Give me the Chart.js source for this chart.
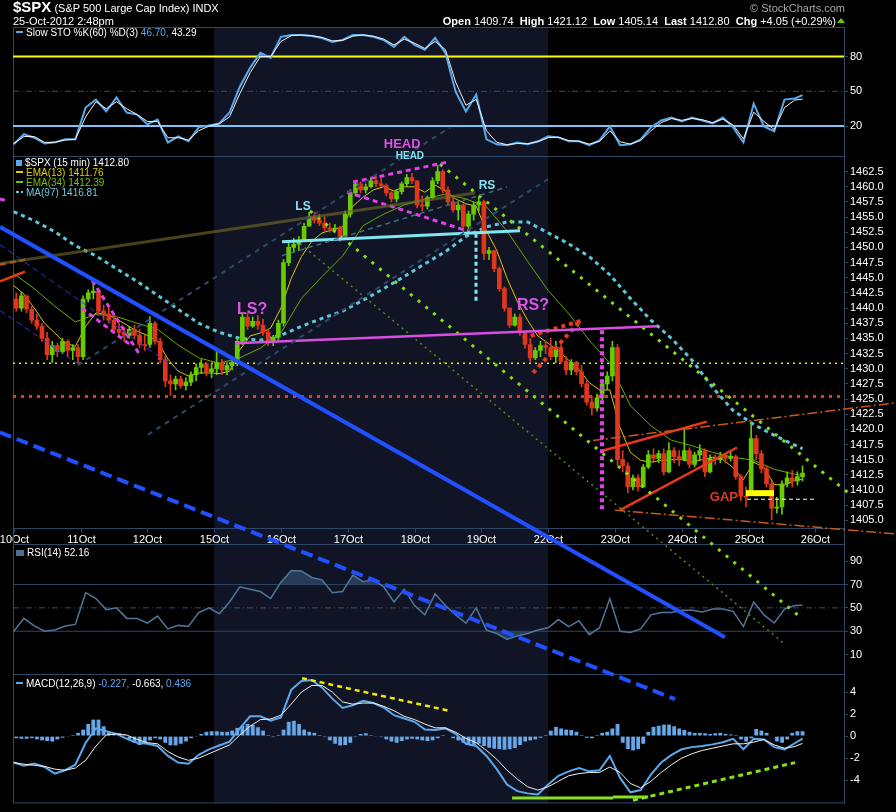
<!DOCTYPE html>
<html>
<head>
<meta charset="utf-8">
<title>$SPX 15 min</title>
<script src="https://cdn.jsdelivr.net/npm/chart.js@4.4.1/dist/chart.umd.min.js"></script>
<style>
  html, body { margin: 0; padding: 0; background: #000; }
  #wrap { position: relative; width: 896px; height: 812px; overflow: hidden; font-family: "Liberation Sans", Arial, sans-serif; color: #fff; }
  #chart { position: absolute; left: 0; top: 0; }
  .txt { position: absolute; white-space: nowrap; font-size: 10px; line-height: 10px; }
  .key { display: inline-block; width: 7px; height: 2px; vertical-align: middle; margin-right: 3px; position: relative; top: -1px; }
  .up { position: absolute; left: 837px; top: 18px; width: 0; height: 0; border-left: 4px solid transparent; border-right: 4px solid transparent; border-bottom: 5px solid #66cc00; }
</style>
</head>
<body>
<div id="wrap">
  <canvas id="chart" width="896" height="812"></canvas>
  <div class="txt" style="left:13px;top:0px;font-size:11px;line-height:14px"><b style="font-size:15px">$SPX</b> (S&amp;P 500 Large Cap Index) INDX</div>
  <div class="txt" style="left:13px;top:15px;font-size:11px;line-height:12px">25-Oct-2012 2:48pm</div>
  <div class="txt" style="right:51px;top:2px;font-size:11px;line-height:12px;color:#a8a8a8">&copy; StockCharts.com</div>
  <div class="txt" style="right:60px;top:15px;font-size:11px;line-height:12px"><b>Open</b> 1409.74&nbsp; <b>High</b> 1421.12&nbsp; <b>Low</b> 1405.14&nbsp; <b>Last</b> 1412.80&nbsp; <b>Chg</b> +4.05 (+0.29%)</div>
  <div class="up"></div>

  <div class="txt" style="left:16px;top:28px"><span class="key" style="background:#5aa8ee"></span>Slow STO %K(60) %D(3) <span style="color:#5aa8ee">46.70,</span> 43.29</div>

  <div class="txt" style="left:16px;top:158px"><span class="key" style="background:#5aa8ee;height:6px;width:6px;top:0"></span>$SPX (15 min) 1412.80</div>
  <div class="txt" style="left:16px;top:168px;color:#e0d000"><span class="key" style="background:#e0d000"></span>EMA(13) 1411.76</div>
  <div class="txt" style="left:16px;top:178px;color:#7ac000"><span class="key" style="background:#7ac000"></span>EMA(34) 1412.39</div>
  <div class="txt" style="left:16px;top:188px;color:#66ccdd"><span class="key" style="background:linear-gradient(90deg,#66ccdd 0 3px,transparent 3px 5px,#66ccdd 5px)"></span>MA(97) 1416.81</div>

  <div class="txt" style="left:16px;top:548px"><span class="key" style="background:#4f6f90;height:6px;width:8px;top:0"></span>RSI(14) 52.16</div>

  <div class="txt" style="left:16px;top:679px"><span class="key" style="background:#5aa8ee"></span>MACD(12,26,9) <span style="color:#5aa8ee">-0.227,</span> -0.663, <span style="color:#5aa8ee">0.436</span></div>
</div>
<script>
// ---- time axis: 30 minute bars, 13 per session ----
const DAYS = ['10Oct', '11Oct', '12Oct', '15Oct', '16Oct', '17Oct', '18Oct', '19Oct', '22Oct', '23Oct', '24Oct', '25Oct', '26Oct'];
const BARS_PER_DAY = 13;

// ---- $SPX 30 min candles ----
const OPEN = [
  1441.5, 1440.0, 1442.0, 1439.8, 1438.0, 1437.0, 1435.0, 1432.3, 1433.8, 1432.8, 1434.5, 1433.0, 1433.5,
  1432.0, 1441.5, 1442.5, 1442.8, 1439.5, 1439.0, 1438.0, 1436.5, 1436.0, 1435.5, 1436.5, 1435.5, 1434.0,
  1434.0, 1437.5, 1434.5, 1431.5, 1428.0, 1427.5, 1428.3, 1427.2, 1427.8, 1429.0, 1430.2, 1430.8, 1429.5,
  1430.0, 1431.0, 1429.8, 1430.5, 1431.0, 1434.5, 1438.5, 1437.0, 1437.8, 1437.2, 1436.0, 1434.5, 1435.2,
  1437.5, 1447.5, 1450.0, 1450.5, 1451.2, 1453.5, 1455.0, 1454.5, 1454.0, 1453.2, 1453.0, 1453.2, 1451.8,
  1455.5, 1459.0, 1460.5, 1459.5, 1460.0, 1461.0, 1460.5, 1460.2, 1459.0, 1458.0, 1459.2, 1460.5, 1461.5,
  1461.0, 1457.0, 1456.8, 1458.2, 1461.0, 1462.5, 1459.5, 1457.5, 1456.2, 1457.0, 1453.5, 1455.5, 1457.0,
  1457.5, 1449.0, 1449.5, 1446.5, 1443.2, 1440.0, 1437.2, 1438.5, 1436.0, 1434.0, 1431.8, 1433.0, 1433.8,
  1433.5, 1432.0, 1433.5, 1431.2, 1429.8, 1431.0, 1429.5, 1427.5, 1424.5, 1423.5, 1425.2, 1427.5, 1428.8,
  1433.5, 1415.0, 1414.0, 1410.5, 1412.0, 1410.5, 1413.8, 1415.8, 1415.2, 1416.0, 1413.0, 1416.5, 1415.5,
  1415.0, 1416.5, 1414.2, 1415.8, 1416.5, 1413.0, 1415.2, 1415.0, 1415.6, 1415.2, 1415.5, 1412.2, 1409.0,
  1409.7, 1418.5, 1416.0, 1413.5, 1411.0, 1407.0, 1407.2, 1411.0, 1412.0, 1411.5, 1412.2
];
const HIGH = [
  1442.5, 1442.6, 1442.0, 1440.3, 1439.0, 1437.5, 1436.0, 1434.5, 1434.2, 1435.0, 1434.8, 1434.0, 1434.0,
  1442.0, 1443.0, 1444.0, 1443.0, 1440.5, 1440.0, 1438.8, 1437.5, 1436.8, 1437.0, 1437.2, 1436.5, 1435.5,
  1438.6, 1437.8, 1435.0, 1432.0, 1429.0, 1428.8, 1428.8, 1428.5, 1429.5, 1430.8, 1431.5, 1431.0, 1430.8,
  1432.9, 1431.5, 1431.0, 1431.5, 1435.0, 1439.0, 1439.2, 1438.5, 1438.8, 1438.2, 1436.5, 1435.5, 1438.0,
  1448.0, 1451.0, 1451.5, 1451.8, 1454.0, 1455.8, 1455.8, 1455.5, 1455.0, 1454.0, 1453.8, 1453.5, 1456.0,
  1459.5, 1461.0, 1460.8, 1460.5, 1461.5, 1461.8, 1461.5, 1460.5, 1459.2, 1459.5, 1460.8, 1462.0, 1462.2,
  1461.0, 1458.5, 1458.5, 1461.5, 1463.5, 1462.8, 1460.0, 1458.5, 1457.5, 1457.2, 1456.0, 1457.5, 1458.3,
  1457.8, 1450.0, 1449.5, 1446.8, 1443.5, 1440.0, 1439.0, 1439.0, 1436.2, 1435.0, 1433.5, 1434.5, 1434.5,
  1435.0, 1434.5, 1434.0, 1432.0, 1431.5, 1431.2, 1430.5, 1428.0, 1425.5, 1425.8, 1428.0, 1429.5, 1434.5,
  1434.0, 1416.5, 1414.5, 1412.5, 1412.5, 1414.2, 1416.5, 1416.8, 1416.5, 1416.8, 1417.8, 1417.0, 1416.5,
  1420.0, 1417.0, 1416.2, 1417.5, 1416.8, 1415.8, 1415.8, 1416.2, 1416.0, 1416.5, 1415.8, 1412.5, 1410.5,
  1421.1, 1419.0, 1416.5, 1414.0, 1411.5, 1408.8, 1411.5, 1413.0, 1413.2, 1413.0, 1414.0
];
const LOW = [
  1439.5, 1439.5, 1439.2, 1437.5, 1436.5, 1434.5, 1431.5, 1431.0, 1432.0, 1432.5, 1432.0, 1431.5, 1430.8,
  1431.5, 1441.0, 1441.5, 1438.8, 1438.0, 1437.5, 1436.0, 1435.5, 1434.5, 1435.0, 1435.0, 1433.5, 1433.0,
  1433.5, 1434.0, 1431.0, 1427.0, 1425.6, 1426.5, 1426.8, 1426.5, 1427.2, 1428.0, 1429.2, 1428.8, 1428.5,
  1429.0, 1429.0, 1429.0, 1429.8, 1430.5, 1434.0, 1436.5, 1436.8, 1436.5, 1435.5, 1433.8, 1433.8, 1434.5,
  1437.0, 1447.0, 1449.2, 1449.5, 1451.0, 1453.5, 1454.0, 1453.6, 1452.8, 1452.5, 1452.5, 1451.0, 1451.5,
  1455.0, 1458.5, 1459.0, 1459.0, 1459.8, 1460.0, 1460.0, 1458.5, 1457.5, 1457.5, 1458.8, 1460.0, 1460.5,
  1456.5, 1456.0, 1456.3, 1458.0, 1460.5, 1459.0, 1457.0, 1455.8, 1454.5, 1452.6, 1452.8, 1454.5, 1456.0,
  1448.0, 1448.0, 1446.0, 1442.8, 1439.5, 1436.8, 1437.0, 1435.5, 1433.4, 1431.2, 1431.5, 1432.0, 1432.5,
  1431.5, 1431.0, 1430.8, 1429.0, 1429.0, 1429.0, 1427.0, 1424.0, 1422.4, 1423.0, 1424.8, 1426.5, 1428.0,
  1414.0, 1413.0, 1409.5, 1410.0, 1409.8, 1410.5, 1413.5, 1414.5, 1414.5, 1412.5, 1412.8, 1414.5, 1414.0,
  1414.8, 1413.7, 1413.8, 1415.0, 1412.2, 1412.8, 1414.2, 1414.5, 1414.5, 1414.8, 1411.8, 1408.3, 1407.2,
  1409.2, 1415.0, 1412.8, 1410.5, 1405.1, 1406.2, 1406.0, 1410.5, 1410.5, 1410.8, 1411.5
];
const CLOSE = [
  1440.0, 1442.0, 1439.8, 1438.0, 1437.0, 1435.0, 1432.3, 1433.8, 1432.8, 1434.5, 1433.0, 1433.5, 1432.0,
  1441.5, 1442.5, 1442.8, 1439.5, 1439.0, 1438.0, 1436.5, 1436.0, 1435.5, 1436.5, 1435.5, 1434.0, 1433.8,
  1437.5, 1434.5, 1431.5, 1428.0, 1427.5, 1428.3, 1427.2, 1427.8, 1429.0, 1430.2, 1430.8, 1429.5, 1430.0,
  1431.0, 1429.8, 1430.5, 1431.0, 1434.5, 1438.5, 1437.0, 1437.8, 1437.2, 1436.0, 1434.5, 1435.2, 1437.5,
  1447.5, 1450.0, 1450.5, 1451.2, 1453.5, 1455.0, 1454.5, 1454.0, 1453.2, 1453.0, 1453.2, 1451.8, 1455.5,
  1459.0, 1460.5, 1459.5, 1460.0, 1461.0, 1460.5, 1460.2, 1459.0, 1458.0, 1459.2, 1460.5, 1461.5, 1461.0,
  1457.0, 1456.8, 1458.2, 1461.0, 1462.5, 1459.5, 1457.5, 1456.2, 1457.0, 1453.5, 1455.5, 1457.0, 1457.5,
  1449.0, 1449.5, 1446.5, 1443.2, 1440.0, 1437.2, 1438.5, 1436.0, 1434.0, 1431.8, 1433.0, 1433.8, 1433.5,
  1432.0, 1433.5, 1431.2, 1429.8, 1431.0, 1429.5, 1427.5, 1424.5, 1423.5, 1425.2, 1427.5, 1428.8, 1433.5,
  1415.0, 1414.0, 1410.5, 1412.0, 1410.5, 1413.8, 1415.8, 1415.2, 1416.0, 1413.0, 1416.5, 1415.5, 1415.0,
  1416.5, 1414.2, 1415.8, 1416.5, 1413.0, 1415.2, 1415.0, 1415.6, 1415.2, 1415.5, 1412.2, 1409.0, 1408.8,
  1418.5, 1416.0, 1413.5, 1411.0, 1407.0, 1407.2, 1411.0, 1412.0, 1411.5, 1412.2, 1412.8
];

// ---- overlays, one value per hour (every 2 bars) ----
const EMA13 = [
  1443.7, 1442.3, 1440.0, 1437.5, 1435.9, 1434.2, 1433.7, 1437.0, 1439.2, 1439.0, 1438.2, 1437.2, 1436.2, 1435.5,
  1434.5, 1431.6, 1429.6, 1428.8, 1429.3, 1429.3, 1429.2, 1429.6, 1433.1, 1435.4, 1435.9, 1436.7, 1440.0, 1444.9,
  1448.5, 1451.0, 1452.4, 1452.9, 1453.4, 1456.8, 1458.3, 1459.5, 1460.0, 1459.3, 1460.0, 1460.0, 1459.1, 1460.3,
  1459.3, 1458.0, 1457.2, 1456.8, 1452.7, 1449.5, 1444.9, 1441.1, 1438.0, 1435.4, 1434.2, 1432.9, 1431.4, 1429.9,
  1427.7, 1426.5, 1426.5, 1420.3, 1416.2, 1414.9, 1414.6, 1414.9, 1415.0, 1415.0, 1414.6, 1415.0, 1415.4, 1415.0,
  1413.7, 1411.7, 1414.6, 1413.7, 1410.9, 1410.8, 1411.6, 1411.8
];
// ---- slower overlays, every 2 hours (every 4 bars) ----
const EMA34 = [
  1445.7, 1443.2, 1440.3, 1437.7, 1439.0, 1438.6, 1437.5, 1436.5, 1433.9, 1431.8, 1430.9, 1431.8, 1433.4, 1435.9,
  1441.6, 1445.2, 1448.6, 1453.6, 1455.5, 1457.0, 1458.0, 1458.8, 1458.0, 1456.7, 1452.7, 1447.7, 1442.9, 1439.1,
  1434.7, 1430.9, 1423.9, 1420.6, 1418.2, 1417.3, 1416.2, 1415.4, 1414.9, 1413.4, 1412.6, 1412.4
];
const MA97 = [
  1455.9, 1454.4, 1452.6, 1450.3, 1448.6, 1446.5, 1444.4, 1442.1, 1439.8, 1437.5, 1436.0, 1435.0, 1434.7, 1435.5,
  1437.0, 1438.3, 1439.5, 1441.3, 1443.2, 1445.2, 1447.3, 1449.3, 1451.8, 1453.4, 1454.2, 1454.2, 1452.4, 1450.6,
  1448.5, 1445.5, 1441.6, 1438.0, 1435.0, 1431.4, 1426.9, 1423.1, 1420.8, 1419.0, 1417.4, 1416.8
];

// ---- indicator panels, one value per hour ----
const STO_K = [
  4.3, 13, 10, 5, 6, 8.6, 8.6, 36, 42.9, 32.6, 44.6, 31.7, 29.9, 21.5, 25.7, 5.9, 11.2, 6.9, 18.9, 20.6,
  22.3, 31.7, 54, 70.3, 83.2, 78.9, 97, 98.6, 98.6, 97.7, 96, 92.6, 94.3, 98.6, 98.6, 97, 94.3, 88.3, 97, 90.1,
  85.8, 96, 83.2, 49.7, 32.6, 47.2, 8.6, 4.3, 3.5, 5.9, 4.3, 6.9, 11.2, 10.3, 6.9, 6.9, 3.5, 7.7, 19.7, 3.5,
  4.3, 8.6, 18.9, 24.9, 27.4, 24, 27.4, 24.9, 22.3, 27.4, 18.9, 5.9, 39.4, 19.7, 15.4, 42.9, 43.8, 46.7
];
const STO_D = [
  5, 11, 11, 6, 6, 8, 8.6, 28, 41, 35, 41, 35, 30, 24, 24, 10, 10, 8, 16, 20,
  22, 28, 48, 66, 80, 80, 93, 98, 98.6, 98, 96.5, 93.5, 94, 97.5, 98.6, 97.5, 95, 90, 95, 91.5,
  87, 93, 86, 58, 38, 43, 16, 6, 4, 5, 4.8, 6.5, 10, 10.5, 7.5, 7, 4.5, 6.8, 16, 6.5,
  4.5, 7.6, 16, 23, 26.5, 25, 26.5, 25.5, 23, 26, 21, 9, 32, 24, 17, 36, 42.5, 43.3
];
const RSI = [
  30, 41, 34.5, 30, 31, 34.5, 35.8, 63, 58, 48.5, 50, 41, 41, 37, 43, 32, 35, 34, 46, 50,
  45, 55, 68, 66, 64, 58, 72, 82, 81.5, 76, 74, 63, 64, 78, 72.4, 74, 68, 55, 66, 52,
  44, 62, 52, 44, 37, 50, 31, 28, 23, 26, 28, 31, 33, 40, 34, 39, 27, 33, 58, 30,
  29, 32, 44, 46, 46, 48, 48, 46.5, 49, 49, 47, 34, 55, 44, 37, 49, 52, 52.2
];
const MACD = [
  -2.4, -2.7, -2.5, -2.8, -3.4, -3.1, -2.6, -0.6, 0.7, 0.45, 0.2, -0.25, -0.6, -0.7, -0.9, -1.8, -2.4, -2.5, -1.7, -1.2,
  -0.85, -0.5, 0.7, 1.8, 1.8, 1.4, 1.7, 4.2, 5.0, 5.1, 4.4, 3.4, 2.55, 2.8, 3.2, 3.0, 2.6, 1.9, 1.6, 1.3,
  0.6, 0.55, 0.7, 0.2, -0.7, -0.9, -1.8, -3.0, -4.4, -5.0, -5.2, -5.3, -4.4, -3.6, -3.2, -2.9, -3.2, -3.1, -1.8, -3.8,
  -5.1, -4.9, -3.5, -2.4, -1.7, -1.2, -1.0, -0.9, -0.75, -0.55, -0.25, -1.2, -0.25, -0.3, -1.0, -1.2, -0.65, -0.23
];
const SIGNAL = [
  -2.4, -2.55, -2.65, -2.75, -3.0, -3.1, -2.9, -2.2, -0.9, 0.1, 0.2, 0.1, -0.3, -0.6, -0.7, -1.4, -1.9, -2.2, -2.0, -1.6,
  -1.2, -0.8, 0.1, 0.9, 1.5, 1.55, 1.9, 2.9, 4.0, 4.6, 4.6, 4.0, 3.1, 2.9, 3.0, 3.0, 2.7, 2.3, 1.8, 1.5,
  1.1, 0.75, 0.75, 0.35, -0.2, -0.6, -1.3, -2.1, -3.1, -3.9, -4.6, -4.9, -4.6, -4.1, -3.6, -3.4, -3.3, -3.3, -2.8, -3.3,
  -4.3, -4.7, -4.1, -3.3, -2.6, -2.0, -1.6, -1.3, -1.1, -0.9, -0.7, -0.7, -0.55, -0.3, -0.8, -1.1, -0.95, -0.66
];
// histogram, one value per 30 min bar
const HIST = [
  -0.2, -0.25, -0.25, -0.2, -0.3, -0.4, -0.45, -0.5, -0.3, -0.15,
  -0.05, 0.1, 0.3, 0.6, 1.1, 1.5, 1.5, 0.9, 0.4, 0.25,
  0.25, 0.1, -0.3, -0.6, -0.8, -0.7, -0.4, -0.2, -0.3, -0.6,
  -0.85, -0.85, -0.7, -0.5, -0.2, -0.05, 0.2, 0.4, 0.45, 0.45,
  0.4, 0.4, 0.5, 0.75, 0.95, 1.1, 1.0, 0.8, 0.5, 0.1,
  -0.1, 0.1, 0.6, 1.3, 1.4, 1.1, 0.6, 0.4, 0.3, 0.1,
  -0.1, -0.4, -0.7, -0.85, -0.8, -0.6, -0.1, 0.2, 0.25, 0.1,
  -0.05, -0.1, -0.3, -0.5, -0.6, -0.45, -0.3, -0.25, -0.3, -0.4,
  -0.45, -0.4, -0.2, 0.1, 0.05, -0.2, -0.4, -0.6, -0.8, -0.85,
  -0.7, -0.9, -1.05, -1.15, -1.2, -1.25, -1.2, -1.1, -0.8, -0.5,
  -0.4, -0.3, -0.15, 0.1, 0.5, 0.85, 0.7, 0.6, 0.55, 0.4,
  0.1, -0.15, -0.2, 0.1, 0.3, 0.4, 0.7, 1.1, -0.6, -1.2,
  -1.3, -1.2, -0.7, 0.4, 0.85, 0.95, 1.05, 1.05, 0.9, 0.7,
  0.55, 0.4, 0.3, 0.3, 0.25, 0.2, 0.25, 0.3, 0.2, 0.15,
  0.1, -0.3, -0.5, -0.2, 0.65, 0.5, 0.3, 0.0, -0.5, -0.6,
  -0.3, 0.3, 0.45, 0.44
];

// ---- axis tick labels ----
const PRICE_TICKS = [1462.5, 1460, 1457.5, 1455, 1452.5, 1450, 1447.5, 1445, 1442.5, 1440, 1437.5, 1435,
  1432.5, 1430, 1427.5, 1425, 1422.5, 1420, 1417.5, 1415, 1412.5, 1410, 1407.5, 1405];
const STO_TICKS = [80, 50, 20];
const RSI_TICKS = [90, 70, 50, 30, 10];
const MACD_TICKS = [4, 2, 0, -2, -4];

// ---- hand-drawn annotations: axis, x0, y0, x1, y1, style ----
const TRENDS = [
  ['yPrice', -2.67, 1453.4, 138.4, 1385.7, 'blue'],
  ['yPrice', -2.67, 1419.5, 128.7, 1375.5, 'blueDash'],
  ['yPrice', -2.67, 1450.45, 32.36, 1429.6, 'thinBlue'],
  ['yPrice', -2.67, 1439.6, 12.51, 1430.8, 'thinBlue'],
  ['yPrice', 15.26, 1444.55, 24.58, 1432.25, 'pinkDash'],
  ['yPrice', 13.29, 1439.96, 23.02, 1433.73, 'pinkDash'],
  ['yPrice', 12.51, 1430.6, 84.9, 1469.8, 'navyDash'],
  ['yPrice', 26.13, 1419.14, 103.97, 1461.27, 'navyDash'],
  ['yPrice', 52.21, 1448.65, 96.0, 1459.96, 'tealDash'],
  ['yPrice', -2.67, 1447.34, 89.76, 1458.98, 'olive'],
  ['yPrice', -2.67, 1444.39, 2.2, 1446.02, 'red'],
  ['yPrice', -2.67, 1447.17, 2.2, 1447.99, 'redDash'],
  ['yPrice', -2.67, 1457.99, -1.11, 1457.66, 'pinkDash'],
  ['yPrice', 52.21, 1450.94, 98.52, 1452.75, 'cyan'],
  ['yPrice', 66.03, 1460.78, 84.31, 1464.06, 'pinkDash'],
  ['yPrice', 64.86, 1459.14, 88.79, 1452.58, 'pinkDash'],
  ['yPrice', 43.06, 1434.22, 125.18, 1437.01, 'magenta'],
  ['yPrice', 89.96, 1452.25, 89.96, 1440.78, 'cyanDash'],
  ['yPrice', 114.48, 1436.35, 114.48, 1406.35, 'pinkBar'],
  ['yPrice', 99.11, 1435.04, 110.78, 1438.0, 'redDot'],
  ['yPrice', 101.05, 1429.3, 110.2, 1437.83, 'redDot'],
  ['yPrice', 82.95, 1463.73, 162.74, 1409.3, 'limeDot'],
  ['yPrice', 57.66, 1456.02, 153.4, 1388.8, 'limeDot'],
  ['yPrice', 55.71, 1450.61, 150.1, 1384.55, 'limeDim'],
  ['yPrice', 112.72, 1418.16, 171.68, 1424.39, 'orange'],
  ['yPrice', 117.01, 1406.68, 171.68, 1402.75, 'orange'],
  ['yPrice', 114.09, 1416.36, 134.9, 1421.27, 'red'],
  ['yPrice', 117.98, 1406.68, 140.75, 1417.01, 'red'],
  ['yPrice', 142.69, 1408.48, 155.92, 1408.48, 'whiteDash'],
  ['yPrice', 142.5, 1409.48, 147.95, 1409.48, 'gapBar'],
  ['yMacd', 56.1, 5.26, 84.9, 2.28, 'yellowDash'],
  ['yMacd', 96.97, -5.63, 116.62, -5.63, 'lime'],
  ['yMacd', 116.62, -5.54, 123.43, -5.54, 'lime'],
  ['yMacd', 120.51, -5.82, 152.03, -2.41, 'limeDash']
];
// horizontal levels: axis, value, style
const LEVELS = [
  ['ySto', 80, 'stoHigh'], ['ySto', 20, 'stoLow'], ['ySto', 50, 'midDash'],
  ['yRsi', 70, 'gridLine'], ['yRsi', 30, 'gridLine'], ['yRsi', 50, 'midDash'],
  ['yPrice', 1430.9, 'yellowDot'], ['yPrice', 1425.4, 'redDotH']
];
const NOTES = [
  { text: 'LS?', x: 46.4, y: 1439.8, color: '#e052e6', size: 16 },
  { text: 'LS', x: 56.3, y: 1456.8, color: '#86e4f2', size: 12 },
  { text: 'HEAD', x: 75.6, y: 1467.0, color: '#e052e6', size: 13 },
  { text: 'HEAD', x: 77.1, y: 1465.0, color: '#86e4f2', size: 10 },
  { text: 'RS', x: 92.1, y: 1460.1, color: '#86e4f2', size: 12 },
  { text: 'RS?', x: 101.05, y: 1440.45, color: '#e052e6', size: 16 },
  { text: 'GAP', x: 138.2, y: 1408.8, color: '#e63a22', size: 13 }
];

const STYLES = {
  blue: { color: '#2050ff', width: 4 },
  blueDash: { color: '#2050ff', width: 4, dash: [12, 6] },
  thinBlue: { color: '#1c3fd8', width: 1, dash: [6, 4] },
  pinkDash: { color: '#e040e8', width: 3, dash: [5, 4] },
  navyDash: { color: '#2b4a68', width: 2, dash: [5, 5] },
  tealDash: { color: '#3d6f78', width: 1.5, dash: [5, 4] },
  olive: { color: 'rgba(120,110,40,0.6)', width: 3 },
  red: { color: '#e8381e', width: 2.5 },
  redDash: { color: '#e8381e', width: 2.5, dash: [6, 4] },
  cyan: { color: '#7fe6f2', width: 3 },
  cyanDash: { color: '#7fe6f2', width: 3, dash: [4, 3] },
  magenta: { color: '#d84ee0', width: 2.5 },
  pinkBar: { color: '#e040e8', width: 4, dash: [4, 3] },
  redDot: { color: '#e8381e', width: 4, dash: [4, 4] },
  limeDot: { color: '#86e010', width: 3, dash: [3, 7] },
  limeDim: { color: '#4f8c14', width: 1.5, dash: [2, 4] },
  orange: { color: '#c8581e', width: 1.5, dash: [10, 3, 2, 3] },
  whiteDash: { color: '#ffffff', width: 1, dash: [4, 3] },
  gapBar: { color: '#ffff00', width: 6 },
  yellowDash: { color: '#f2ea00', width: 2.5, dash: [5, 4] },
  lime: { color: '#88e020', width: 3 },
  limeDash: { color: '#88e020', width: 3, dash: [5, 4] },
  stoHigh: { color: '#ffff00', width: 2 },
  stoLow: { color: '#7fc4f4', width: 2 },
  midDash: { color: '#33506e', width: 1, dash: [6, 3, 1, 3] },
  gridLine: { color: '#2c4462', width: 1 },
  yellowDot: { color: '#e8e800', width: 1.5, dash: [2, 4] },
  redDotH: { color: '#e8381e', width: 3, dash: [3, 5] }
};

// ---- layout of the four panels ----
const FONT = '"Liberation Sans", Arial, sans-serif';
const FRAME = '#2e4765';
const GREEN = '#66cc00';
const RED = '#e0361e';
const AXIS_W = 52;
const X_MIN = -0.136, X_MAX = 161.57, LAST_X = 153.5;
const SHADE_FROM = 3 * BARS_PER_DAY, SHADE_TO = 8 * BARS_PER_DAY;
const RANGE = {
  ySto: [-563.97, 105.46],
  yPrice: [1358.32, 1486.35],
  yRsi: [-117.4, 547.28],
  yMacd: [-6.11, 64.38]
};
const PRICE_FLOOR = 1403.73;
const PANEL_EDGES = [['ySto', -6], ['yPrice', PRICE_FLOOR], ['yRsi', 104.7], ['yRsi', -6.2]];

Chart.defaults.font.family = FONT;
Chart.defaults.color = '#fff';

const pts = (vals, step) => vals.map((v, k) => ({ x: Math.min(k * step, LAST_X), y: v }));
const isUp = i => CLOSE[i] >= OPEN[i];

function line(axis, data, color, width, extra) {
  return Object.assign({
    type: 'line', yAxisID: axis, xAxisID: 'x', data,
    borderColor: color, borderWidth: width, pointRadius: 0, tension: 0, fill: false
  }, extra || {});
}
function styled(axis, data, name, order, clip) {
  const s = STYLES[name];
  return line(axis, data, s.color, s.width, { borderDash: s.dash || [], order, clip: clip ? undefined : false });
}

const datasets = [];

LEVELS.forEach(([axis, v, st]) => {
  datasets.push(styled(axis, [{ x: X_MIN, y: v }, { x: X_MAX, y: v }], st, 100, true));
});

// RSI overbought / oversold shading
datasets.push(line('yRsi', pts(RSI, 2), 'rgba(0,0,0,0)', 0,
  { fill: { target: { value: 70 }, above: 'rgba(52,82,112,0.65)', below: 'rgba(0,0,0,0)' }, order: 95 }));
datasets.push(line('yRsi', pts(RSI, 2), 'rgba(0,0,0,0)', 0,
  { fill: { target: { value: 30 }, above: 'rgba(0,0,0,0)', below: 'rgba(52,82,112,0.65)' }, order: 95 }));

datasets.push({
  type: 'bar', yAxisID: 'yMacd', xAxisID: 'x', order: 90, grouped: false,
  data: HIST.map((v, i) => ({ x: i + 0.5, y: v })),
  backgroundColor: '#6aa8e6', borderColor: '#3a6ea8', borderWidth: { left: 1, right: 0, top: 0, bottom: 0 },
  borderSkipped: false, barThickness: 4
});

datasets.push(line('yPrice', pts(MA97, 4), '#5fc6d8', 3, { borderDash: [4, 4], order: 70 }));
datasets.push(line('yPrice', pts(EMA34, 4), '#66aa00', 1, { order: 65 }));
datasets.push(line('yPrice', pts(EMA13, 2), '#d8c800', 1, { order: 60 }));

datasets.push({
  type: 'bar', yAxisID: 'yPrice', xAxisID: 'x', order: 56, grouped: false,
  data: CLOSE.map((c, i) => ({ x: i + 0.5, y: [LOW[i], HIGH[i]] })),
  backgroundColor: ctx => isUp(ctx.dataIndex) ? GREEN : RED, barThickness: 1
});
datasets.push({
  type: 'bar', yAxisID: 'yPrice', xAxisID: 'x', order: 55, grouped: false, minBarLength: 1,
  data: CLOSE.map((c, i) => ({ x: i + 0.5, y: [OPEN[i], c] })),
  backgroundColor: ctx => isUp(ctx.dataIndex) ? GREEN : RED, barThickness: 4
});

datasets.push(line('ySto', pts(STO_K, 2), '#5aa8ee', 2, { order: 41 }));
datasets.push(line('ySto', pts(STO_D, 2), '#f0f0f0', 1, { order: 40 }));
datasets.push(line('yRsi', pts(RSI, 2), '#52769a', 1.5, { order: 41 }));
datasets.push(line('yMacd', pts(MACD, 2), '#5aa8ee', 2, { order: 41 }));
datasets.push(line('yMacd', pts(SIGNAL, 2), '#f0f0f0', 1, { order: 40 }));

TRENDS.forEach(([axis, x0, y0, x1, y1, st]) => {
  datasets.push(styled(axis, [{ x: x0, y: y0 }, { x: x1, y: y1 }], st, 10, false));
});

function panelAxis(id, ticks, fmt) {
  return {
    type: 'linear', position: 'right', min: RANGE[id][0], max: RANGE[id][1],
    afterFit: s => { s.width = 0; },
    afterBuildTicks: s => { s.ticks = ticks.map(v => ({ value: v })); },
    ticks: { color: '#fff', font: { size: 11 }, padding: 2, autoSkip: false, callback: fmt },
    grid: { drawOnChartArea: false, tickLength: 4, color: FRAME },
    border: { color: FRAME }
  };
}

const backdrop = {
  id: 'backdrop',
  afterLayout(chart) {
    // the four right axes share one column; widen them after layout so labels are not clipped
    ['ySto', 'yPrice', 'yRsi', 'yMacd'].forEach(id => {
      const s = chart.scales[id];
      s.width = AXIS_W;
      s.right = s.left + AXIS_W;
    });
  },
  beforeDraw(chart) {
    const { ctx, chartArea: a, scales } = chart;
    ctx.save();
    ctx.fillStyle = '#000';
    ctx.fillRect(0, 0, chart.width, chart.height);
    const x0 = scales.x.getPixelForValue(SHADE_FROM);
    const x1 = scales.x.getPixelForValue(SHADE_TO);
    ctx.fillStyle = '#111425';
    ctx.fillRect(x0, a.top, x1 - x0, a.bottom - a.top);
    ctx.strokeStyle = FRAME;
    ctx.lineWidth = 1;
    ctx.beginPath();
    const rows = [a.top + 0.5, a.bottom - 0.5].concat(PANEL_EDGES.map(([id, v]) => Math.round(scales[id].getPixelForValue(v)) + 0.5));
    rows.forEach(y => { ctx.moveTo(a.left, y); ctx.lineTo(a.right, y); });
    ctx.moveTo(a.left + 0.5, a.top);
    ctx.lineTo(a.left + 0.5, a.bottom);
    // session ticks and date labels under the price panel
    const base = Math.round(scales.yPrice.getPixelForValue(PRICE_FLOOR)) + 0.5;
    ctx.fillStyle = '#fff';
    ctx.font = '11px ' + FONT;
    ctx.textAlign = 'center';
    ctx.textBaseline = 'middle';
    DAYS.forEach((d, i) => {
      const x = Math.round(scales.x.getPixelForValue(i * BARS_PER_DAY)) + 0.5;
      ctx.moveTo(x, base);
      ctx.lineTo(x, base + 4);
      ctx.fillText(d, x, base + 11);
    });
    ctx.stroke();
    ctx.restore();
  }
};

const notes = {
  id: 'notes',
  afterDatasetsDraw(chart) {
    const { ctx, scales } = chart;
    ctx.save();
    ctx.textAlign = 'center';
    ctx.textBaseline = 'middle';
    NOTES.forEach(n => {
      ctx.font = 'bold ' + n.size + 'px ' + FONT;
      ctx.fillStyle = n.color;
      ctx.fillText(n.text, scales.x.getPixelForValue(n.x), scales.yPrice.getPixelForValue(n.y));
    });
    ctx.restore();
  }
};

new Chart(document.getElementById('chart'), {
  type: 'line',
  data: { datasets },
  options: {
    responsive: false,
    animation: false,
    devicePixelRatio: 1,
    events: [],
    layout: { padding: { left: 13, right: AXIS_W, top: 27, bottom: 4 } },
    plugins: { legend: { display: false }, tooltip: { enabled: false } },
    scales: {
      x: { type: 'linear', min: X_MIN, max: X_MAX, display: false, offset: false, grid: { offset: false } },
      ySto: panelAxis('ySto', STO_TICKS, v => String(v)),
      yPrice: panelAxis('yPrice', PRICE_TICKS, v => v.toFixed(1)),
      yRsi: panelAxis('yRsi', RSI_TICKS, v => String(v)),
      yMacd: panelAxis('yMacd', MACD_TICKS, v => String(v))
    }
  },
  plugins: [backdrop, notes]
});
</script>
</body>
</html>
